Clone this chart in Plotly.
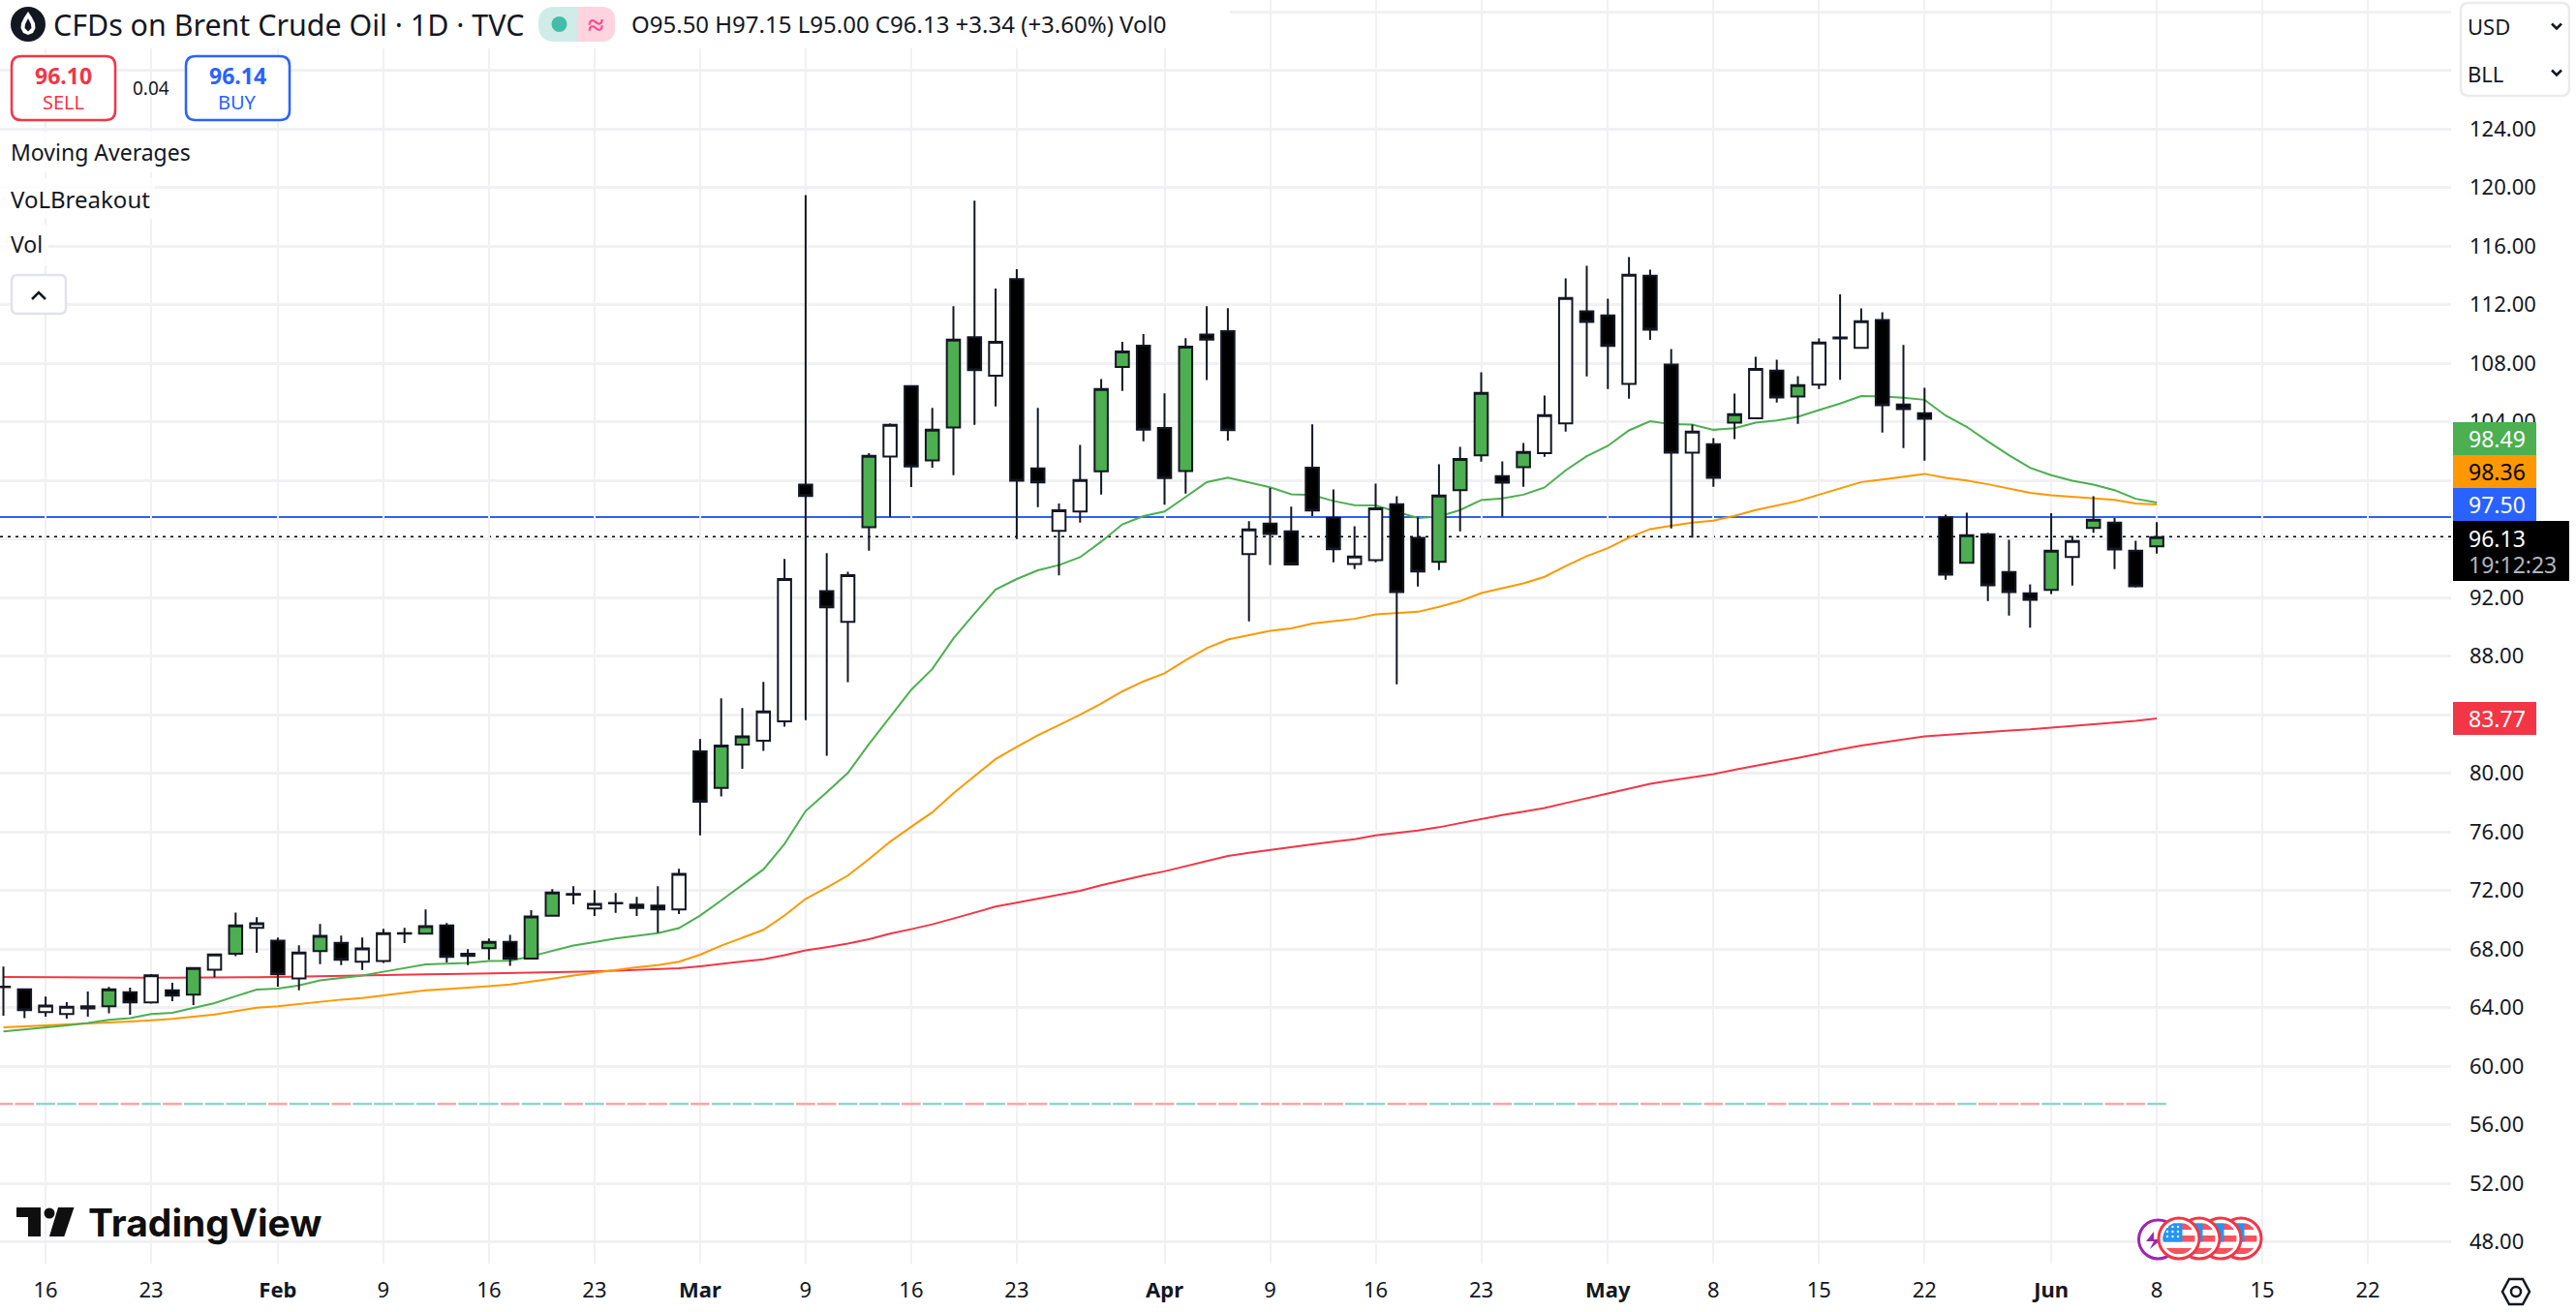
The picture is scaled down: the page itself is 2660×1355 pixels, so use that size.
import math
import plotly.graph_objects as go

# Reference canvas and plot area, pixels
PAGE_W, PAGE_H = 2660, 1355
PLOT_W, PLOT_H = 2531, 1305

FONT = 'Noto Sans'
INK = '#131722'
GREEN = '#4caf50'
ORANGE = '#ff9800'
BLUE = '#2962ff'
RED = '#f23645'
GRID = '#f1f1f3'

# Daily bars, Jan 14 to Jun 8 (one entry per trading day)
opens = [65.44, 65.26, 63.7, 63.56, 64.09, 64.09, 65.06, 64.36, 65.19, 64.89,
         66.6, 67.68, 69.45, 68.57, 66.0, 67.86, 68.43, 67.13, 67.18, 69.05,
         69.05, 69.62, 67.53, 68.06, 68.5, 67.35, 70.28, 71.76, 70.77, 71.16,
         71.03, 70.97, 70.7, 81.5, 79.0, 81.97, 82.23, 83.55, 99.72, 92.44,
         90.34, 96.81, 101.63, 106.45, 101.37, 103.62, 109.78, 107.16, 113.75, 100.83,
         96.56, 97.88, 100.62, 107.75, 109.21, 103.59, 100.64, 109.97, 110.2, 94.97,
         97.05, 96.53, 100.88, 97.45, 94.3, 94.56, 98.37, 96.08, 94.45, 99.34,
         101.72, 100.29, 100.91, 101.86, 103.9, 111.55, 111.27, 106.6, 113.98, 107.92,
         101.9, 102.47, 103.95, 104.24, 107.5, 105.73, 106.55, 109.76, 109.06, 110.96,
         105.18, 104.59, 97.49, 94.38, 96.32, 93.75, 92.29, 92.53, 94.78, 96.76,
         97.12, 95.2, 95.5]
highs = [66.8, 65.3, 64.75, 64.38, 65.1, 65.41, 65.37, 66.3, 65.7, 66.71,
         67.64, 70.5, 70.18, 68.79, 68.26, 69.71, 68.92, 68.79, 69.38, 69.45,
         70.7, 69.78, 67.99, 68.72, 68.98, 70.66, 72.09, 72.29, 72.03, 71.83,
         71.56, 72.29, 73.48, 82.34, 85.12, 84.46, 86.24, 94.64, 119.48, 95.04,
         93.76, 101.87, 103.9, 106.45, 104.96, 111.9, 119.1, 113.11, 114.43, 104.96,
         98.42, 102.43, 106.92, 109.47, 110.0, 105.95, 109.71, 111.9, 111.76, 97.22,
         99.48, 98.21, 103.83, 99.39, 96.87, 99.78, 98.92, 97.49, 101.11, 102.3,
         107.39, 101.3, 102.56, 105.8, 113.8, 114.66, 112.41, 115.25, 114.4, 108.97,
         103.82, 102.89, 105.93, 108.44, 108.25, 107.12, 109.7, 112.7, 111.75, 111.49,
         109.26, 106.33, 97.67, 97.8, 96.43, 95.95, 92.91, 97.76, 96.21, 98.92,
         97.43, 95.88, 97.15]
lows = [63.45, 63.28, 63.39, 63.25, 63.39, 63.61, 63.52, 64.27, 64.44, 64.18,
        66.08, 67.51, 67.75, 65.44, 65.19, 66.98, 66.91, 66.58, 67.05, 68.41,
        69.05, 67.09, 66.91, 67.27, 66.85, 67.35, 70.22, 71.06, 70.26, 70.48,
        70.26, 69.12, 70.4, 75.77, 78.42, 80.31, 81.53, 83.18, 83.64, 81.2,
        86.22, 95.21, 97.52, 99.55, 100.88, 100.36, 103.8, 105.06, 96.0, 98.18,
        93.51, 97.12, 99.03, 106.12, 102.67, 98.35, 99.1, 106.85, 102.72, 90.37,
        94.22, 94.26, 97.57, 94.41, 93.94, 94.41, 86.08, 92.75, 93.88, 96.52,
        101.28, 97.54, 99.56, 101.61, 103.33, 107.1, 106.24, 105.58, 109.6, 96.72,
        96.1, 99.56, 102.83, 104.24, 105.32, 103.86, 106.24, 106.88, 109.06, 103.27,
        102.21, 101.35, 93.22, 94.38, 91.76, 90.77, 89.95, 92.25, 92.82, 96.43,
        93.94, 92.69, 95.0]
closes = [65.40, 63.83, 64.14, 64.07, 63.94, 65.26, 64.36, 66.21, 64.82, 66.71,
          67.64, 69.62, 69.76, 66.27, 67.77, 68.9, 67.27, 68.04, 69.09, 69.09,
          69.56, 67.46, 67.68, 68.5, 67.33, 70.22, 71.87, 71.72, 71.08, 71.12,
          70.81, 70.70, 73.13, 78.07, 81.9, 82.52, 84.22, 93.27, 98.94, 91.33,
          93.54, 101.68, 103.8, 100.95, 103.47, 109.61, 107.54, 109.47, 99.98, 99.86,
          97.97, 100.03, 106.24, 108.81, 103.47, 100.17, 109.14, 109.61, 103.43, 96.65,
          96.34, 94.26, 97.95, 95.3, 94.8, 98.09, 92.38, 93.79, 98.97, 101.46,
          105.98, 99.85, 101.94, 104.46, 112.46, 110.83, 109.19, 114.04, 110.3, 101.9,
          103.33, 100.18, 104.52, 107.61, 105.67, 106.51, 109.41, 109.7, 110.87, 105.14,
          104.88, 104.21, 93.57, 96.26, 92.84, 92.38, 91.85, 95.2, 95.86, 97.32,
          95.29, 92.78, 96.13]
# body colour of each bar: g green, w white, k black
bar_kinds = list('kkwwkgkwkg' 'wgwkwgkwww' 'gkwgkggkwk' 'kkwkggwwkk'
                 'wgwkggkwkk' 'wwggkkgkkw' 'kkkkwwkkgg' 'gkgwwkkwkk'
                 'wkgwkgwkwk' 'kkkgkkkgwg' 'kkg')

sma_fast = [62.37, 62.5, 62.64, 62.79, 62.95, 63.17, 63.28, 63.56, 63.65, 63.98,
            64.31, 64.78, 65.24, 65.3, 65.52, 65.86, 66.01, 66.19, 66.45, 66.69,
            66.96, 67.0, 67.05, 67.18, 67.2, 67.51, 67.88, 68.24, 68.48, 68.72,
            68.9, 69.09, 69.43, 70.29, 71.32, 72.36, 73.44, 75.18, 77.43, 78.71,
            80.03, 82.0, 83.87, 85.7, 87.13, 89.21, 90.91, 92.56, 93.27, 93.86,
            94.22, 94.76, 95.82, 97.0, 97.57, 97.88, 98.87, 99.88, 100.19, 99.88,
            99.53, 99.06, 99.0, 98.6, 98.31, 98.29, 97.84, 97.43, 97.54, 97.98,
            98.66, 98.77, 99.03, 99.52, 100.69, 101.66, 102.36, 103.42, 104.04, 103.84,
            103.82, 103.46, 103.57, 103.95, 104.1, 104.35, 104.81, 105.25, 105.76, 105.73,
            105.65, 105.51, 104.43, 103.66, 102.67, 101.72, 100.86, 100.36, 99.98, 99.72,
            99.34, 98.75, 98.49]
sma_mid = [62.66, 62.72, 62.77, 62.83, 62.9, 62.98, 63.06, 63.14, 63.23, 63.38,
           63.54, 63.76, 64.0, 64.09, 64.25, 64.44, 64.55, 64.66, 64.84, 65.02,
           65.19, 65.27, 65.35, 65.47, 65.59, 65.77, 65.98, 66.19, 66.39, 66.58,
           66.75, 66.91, 67.14, 67.62, 68.24, 68.77, 69.32, 70.29, 71.43, 72.2,
           73.02, 74.14, 75.33, 76.35, 77.34, 78.64, 79.81, 80.98, 81.8, 82.6,
           83.3, 84.0, 84.77, 85.6, 86.28, 86.83, 87.72, 88.55, 89.14, 89.45,
           89.73, 89.9, 90.23, 90.4, 90.55, 90.86, 90.92, 91.03, 91.37, 91.76,
           92.31, 92.62, 92.97, 93.42, 94.16, 94.83, 95.38, 96.1, 96.68, 96.9,
           97.12, 97.25, 97.58, 97.98, 98.29, 98.6, 99.03, 99.45, 99.89, 100.07,
           100.27, 100.45, 100.18, 100.0, 99.74, 99.43, 99.15, 98.99, 98.88, 98.81,
           98.68, 98.42, 98.36]
sma_slow = [66.1, 66.1, 66.08, 66.08, 66.08, 66.06, 66.05, 66.05, 66.04, 66.04,
            66.05, 66.06, 66.08, 66.1, 66.13, 66.16, 66.19, 66.2, 66.22, 66.25,
            66.27, 66.29, 66.31, 66.33, 66.36, 66.38, 66.41, 66.44, 66.47, 66.52,
            66.57, 66.63, 66.69, 66.83, 67.0, 67.16, 67.31, 67.58, 67.91, 68.13,
            68.37, 68.68, 69.05, 69.36, 69.69, 70.09, 70.51, 70.9, 71.17, 71.43,
            71.7, 71.98, 72.36, 72.71, 73.02, 73.31, 73.66, 73.97, 74.36, 74.58,
            74.78, 74.95, 75.15, 75.33, 75.5, 75.77, 75.94, 76.1, 76.32, 76.6,
            76.91, 77.16, 77.38, 77.64, 77.97, 78.32, 78.63, 78.96, 79.29, 79.51,
            79.73, 79.95, 80.24, 80.53, 80.79, 81.06, 81.32, 81.63, 81.89, 82.11,
            82.33, 82.53, 82.62, 82.73, 82.84, 82.93, 83.0, 83.11, 83.22, 83.35,
            83.48, 83.59, 83.75]

breakout_level = 57.43
resistance_level = 97.5
last_close = 96.13

# date axis labels, placed on bar numbers so weekends fall out
date_ticks = [2, 7, 13, 18, 23, 28, 33, 38, 43, 48, 55, 60, 65, 70, 76, 81, 86, 91, 97, 102, 107, 112]
date_labels = ['16', '23', '<b>Feb</b>', '9', '16', '23', '<b>Mar</b>', '9', '16', '23', '<b>Apr</b>',
               '9', '16', '23', '<b>May</b>', '8', '15', '22', '<b>Jun</b>', '8', '15', '22']
price_ticks = list(range(48, 136, 4))
# the levels under the tags and the unit box carry no readable label
covered_ticks = (84, 96, 128, 132)
price_labels = ['' if p in covered_ticks else '%.2f' % p for p in price_ticks]


def px(x):
    return x / PLOT_W


def py(y):
    return 1 - y / PLOT_H


shapes = []
annotations = []


def text(x, y, s, size=22, color=INK, anchor='left', weight=None, family=FONT):
    annotations.append(dict(
        x=px(x), y=py(y), xref='paper', yref='paper', text=s, showarrow=False,
        xanchor=anchor, yanchor='middle', borderpad=0, borderwidth=0,
        font=dict(family=family, size=size, color=color, weight=weight),
    ))


def rect(x0, y0, x1, y1, fill, opacity=1):
    shapes.append(dict(type='rect', xref='paper', yref='paper', x0=px(x0), x1=px(x1),
                       y0=py(y0), y1=py(y1), fillcolor=fill, opacity=opacity,
                       line=dict(width=0), layer='above'))


def circle(cx, cy, r, fill='rgba(0,0,0,0)', line=None, width=0):
    shapes.append(dict(type='circle', xref='paper', yref='paper', x0=px(cx - r), x1=px(cx + r),
                       y0=py(cy - r), y1=py(cy + r), fillcolor=fill,
                       line=dict(width=width, color=line), layer='above'))


def poly(points, fill='rgba(0,0,0,0)', line=None, width=0, close=True):
    d = 'M' + ' L'.join('%.5f,%.5f' % (px(a), py(b)) for a, b in points)
    if close:
        d += ' Z'
    shapes.append(dict(type='path', xref='paper', yref='paper', path=d, fillcolor=fill,
                       line=dict(width=width, color=line), layer='above'))


def round_box(x0, y0, x1, y1, r, line, fill='white', width=2.5):
    def p(a, b):
        return '%.5f,%.5f' % (px(a), py(b))
    d = ('M' + p(x0 + r, y0) + ' L' + p(x1 - r, y0) + ' Q' + p(x1, y0) + ' ' + p(x1, y0 + r)
         + ' L' + p(x1, y1 - r) + ' Q' + p(x1, y1) + ' ' + p(x1 - r, y1)
         + ' L' + p(x0 + r, y1) + ' Q' + p(x0, y1) + ' ' + p(x0, y1 - r)
         + ' L' + p(x0, y0 + r) + ' Q' + p(x0, y0) + ' ' + p(x0 + r, y0) + ' Z')
    shapes.append(dict(type='path', xref='paper', yref='paper', path=d, fillcolor=fill,
                       line=dict(width=width, color=line), layer='above'))


def band(cx, cy, r, top, bottom, xmax=None, fill='#f7525f'):
    # part of a disc between two heights, used for the flag stripes
    pts = []
    steps = 8
    for k in range(steps + 1):
        y = top + (bottom - top) * k / steps
        pts.append((cx - math.sqrt(max(r * r - y * y, 0)), cy + y))
    for k in range(steps, -1, -1):
        y = top + (bottom - top) * k / steps
        right = math.sqrt(max(r * r - y * y, 0))
        if xmax is not None:
            right = min(right, xmax)
        pts.append((cx + right, cy + y))
    poly(pts, fill=fill)


def flag(cx, cy):
    circle(cx, cy, 21, fill='white', line=RED, width=3)
    for top, bottom in [(-15.5, -9), (-3, 3.5), (10, 16)]:
        band(cx, cy, 16.5, top, bottom)
    band(cx, cy, 16.5, -15.5, 3.5, xmax=3.5, fill='#2196f3')


# --- chart overlay pieces, all in page pixels ---
# header backdrops
rect(0, 0, 1270, 50, 'white', 0.95)
rect(0, 136, 205, 178, 'white', 0.75)
rect(0, 184, 160, 226, 'white', 0.75)
rect(0, 232, 50, 274, 'white', 0.75)

# symbol icon
circle(29, 25, 18, fill=INK)
poly([(29, 12), (33, 18), (36, 24), (36.5, 29), (34, 34), (29, 36), (24, 34), (21.5, 29), (22, 24), (25, 18)], fill='white')
poly([(29, 19), (32, 25), (32.5, 29), (29, 32.5), (25.5, 29), (26, 25)], fill=INK)
text(55, 25, 'CFDs on Brent Crude Oil · 1D · TVC', size=30.4)

# market status pill
round_box(556, 7, 635, 43, 17, 'rgba(0,0,0,0)', fill='#d0ece8', width=0)
round_box(596, 7, 635, 43, 14, 'rgba(0,0,0,0)', fill='#ffd3e0', width=0)
rect(596, 7, 612, 43, '#ffd3e0')
circle(577.5, 25, 8, fill='#42bda8')
text(615, 24, '≈', size=30, color='#ff4a8d', anchor='center', weight='bold')

text(652, 24, 'O95.50 H97.15 L95.00 C96.13 +3.34 (+3.60%) Vol0', size=24)

# sell / buy
round_box(12, 58, 119, 124, 10, RED)
text(65, 78, '96.10', size=23, color=RED, anchor='center', weight='bold')
text(65, 105, 'SELL', size=20, color=RED, anchor='center')
text(156, 91, '0.04', size=19, anchor='center')
round_box(192, 58, 299, 124, 10, BLUE)
text(245, 78, '96.14', size=23, color=BLUE, anchor='center', weight='bold')
text(245, 105, 'BUY', size=20, color=BLUE, anchor='center')

text(11, 157, 'Moving Averages', size=23)
text(11, 205, 'VoLBreakout', size=24)
text(11, 252, 'Vol', size=23)

round_box(12, 284, 68, 324, 6, '#e0e3eb')
poly([(33, 309), (40, 302), (47, 309)], line=INK, width=2.5, close=False)

# TradingView mark
poly([(17, 1247), (42, 1247), (42, 1277), (29, 1277), (29, 1257), (17, 1257)], fill='#0f0f0f')
circle(51, 1253, 5.5, fill='#0f0f0f')
poly([(60, 1247), (76.5, 1247), (66.3, 1277), (51, 1277)], fill='#0f0f0f')
text(91, 1262, 'TradingView', size=39, color='#0f0f0f', weight=700, family='Inter')

# currency / unit box
round_box(2541, 3, 2653, 99, 8, '#ebebeb')
text(2548, 27, 'USD', size=22)
text(2548, 76, 'BLL', size=22)
for chevron_y in (27, 75):
    poly([(2635, chevron_y - 2.5), (2640, chevron_y + 2.5), (2645, chevron_y - 2.5)], line=INK, width=2.5, close=False)

# price scale tags
rect(2533, 436, 2619, 470, GREEN)
text(2549, 453, '98.49', size=23, color='white')
rect(2533, 470, 2619, 504, ORANGE)
text(2549, 487, '98.36', size=23, color='black')
rect(2533, 504, 2619, 538, BLUE)
text(2549, 521, '97.50', size=23, color='white')
rect(2533, 538, 2653, 600, 'black')
text(2549, 556, '96.13', size=23, color='white')
text(2549, 583, '19:12:23', size=23, color='#b2b5be')
rect(2533, 725, 2619, 759, RED)
text(2549, 742, '83.77', size=23, color='white')

# news and calendar badges at the last bars
circle(2228.5, 1280, 20, fill='white', line='#9c27b0', width=3)
poly([(2224, 1272), (2216, 1282), (2224, 1282), (2220, 1290), (2232, 1280), (2224, 1280)], fill='#9c27b0')
for flag_x in (2314, 2293, 2271, 2250):
    flag(flag_x, 1279)
for star_row in (-12, -7, -2):
    for star_col in (-12, -6.5, -1):
        circle(2250 + star_col, 1279 + star_row, 1.2, fill='white')

# settings hexagon
poly([(2584, 1334), (2591, 1321), (2605, 1321), (2612, 1334), (2605, 1347), (2591, 1347)], line=INK, width=2.5)
circle(2598, 1334, 5, line=INK, width=2.5)

# --- traces ---
bars = list(range(len(closes)))
data = []

data.append(go.Scatter(x=bars, y=sma_slow, mode='lines', line=dict(color=RED, width=2), hoverinfo='skip'))
data.append(go.Scatter(x=bars, y=sma_mid, mode='lines', line=dict(color=ORANGE, width=2), hoverinfo='skip'))
data.append(go.Scatter(x=bars, y=sma_fast, mode='lines', line=dict(color=GREEN, width=2), hoverinfo='skip'))

# indicator dashes under the price, one per bar
dash_colors = ['#fca5a5' if k == 'k' else '#8fd5cb' for k in bar_kinds]
data.append(go.Scatter(
    x=bars, y=[breakout_level] * len(bars), mode='markers', hoverinfo='skip',
    marker=dict(symbol='line-ew', size=14, line=dict(width=2.5, color=dash_colors)),
))

# three body colours need three candle traces; on the overlay axes so they sit above the lines
for kind, fill in (('g', GREEN), ('w', 'white'), ('k', 'black')):
    idx = [i for i in bars if bar_kinds[i] == kind]
    style = dict(line=dict(color=INK, width=2), fillcolor=fill)
    data.append(go.Candlestick(
        x=idx,
        open=[opens[i] for i in idx],
        high=[highs[i] for i in idx],
        low=[lows[i] for i in idx],
        close=[closes[i] for i in idx],
        increasing=style,
        decreasing=style,
        whiskerwidth=0,
        xaxis='x2',
        yaxis='y2',
        hoverinfo='skip',
    ))

# lines under the bars
shapes.insert(0, dict(type='line', xref='paper', yref='y', x0=0, x1=1, y0=resistance_level, y1=resistance_level,
                      line=dict(color=BLUE, width=2.2), layer='below'))
shapes.insert(0, dict(type='line', xref='paper', yref='y', x0=0, x1=1, y0=last_close, y1=last_close,
                      line=dict(color='black', width=2.5, dash='3px,5px'), layer='below'))

x_range = [-3.5 / 21.8, (PLOT_W - 3.5) / 21.8]
y_range = [120 - (PLOT_H - 193.7) / 15.125, 120 + 193.7 / 15.125]

layout = dict(
    width=PAGE_W,
    height=PAGE_H,
    showlegend=False,
    plot_bgcolor='white',
    paper_bgcolor='white',
    font=dict(family=FONT, size=22, color=INK),
    margin=dict(l=0, r=PAGE_W - PLOT_W, t=0, b=PAGE_H - PLOT_H, pad=0),
    boxgap=0.11,
    shapes=shapes,
    annotations=annotations,
    xaxis=dict(
        range=x_range, tickmode='array', tickvals=date_ticks, ticktext=date_labels,
        gridcolor=GRID, gridwidth=2, showline=False, zeroline=False, ticks='',
        ticklabelstandoff=12, rangeslider=dict(visible=False),
    ),
    yaxis=dict(
        range=y_range, side='right', tickmode='array', tickvals=price_ticks, ticktext=price_labels,
        gridcolor=GRID, gridwidth=2.5, showline=False, zeroline=False, ticks='',
        ticklabelstandoff=18,
    ),
    xaxis2=dict(range=x_range, overlaying='x', visible=False, rangeslider=dict(visible=False)),
    yaxis2=dict(range=y_range, overlaying='y', side='right', visible=False),
)

fig = go.Figure(data=data, layout=layout)
fig.write_html("out.html", config={'displayModeBar': False}, post_script="document.body.style.margin='0';")
